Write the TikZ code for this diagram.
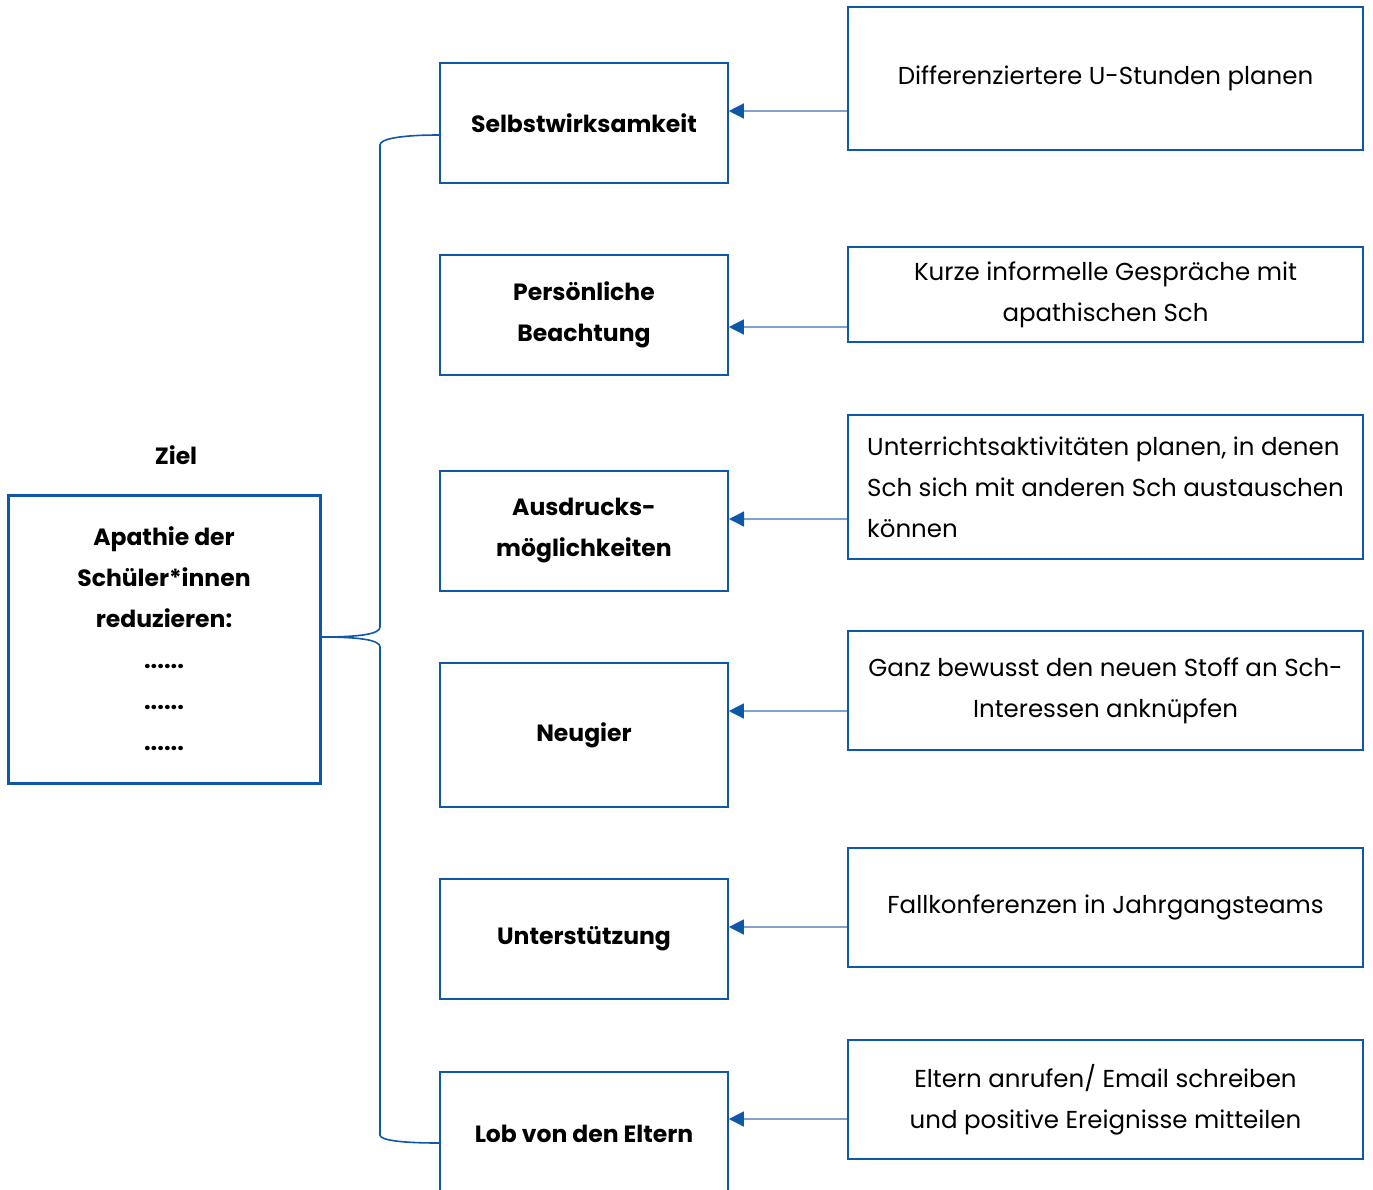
\documentclass[tikz,border=0pt]{standalone}
\usepackage{fontspec}
\setmainfont{Poppins}
\usetikzlibrary{arrows.meta}
\definecolor{ccBlue}{HTML}{0F57A8}
\definecolor{ccLight}{HTML}{7FA3D1}

\begin{document}
\begin{tikzpicture}[x=1pt, y=-1pt]
\tikzstyle{goalbox}=[draw=ccBlue, line width=3pt, align=center, minimum width=312pt, minimum height=288pt, font=\fontsize{23.5}{41}\selectfont\bfseries]
\tikzstyle{midbox}=[draw=ccBlue, line width=1.6pt, align=center, minimum width=288pt, minimum height=120pt, font=\fontsize{23.5}{41}\selectfont\bfseries]
\tikzstyle{actbox}=[draw=ccBlue, line width=1.2pt, align=center, minimum width=515pt, font=\fontsize{24.5}{41}\selectfont]
\tikzstyle{arr}=[draw=ccLight, line width=1.3pt, -{Triangle[length=15pt, width=15pt, color=ccBlue]}]
\tikzstyle{brace}=[draw=ccBlue, line width=1.6pt]
\useasboundingbox (0,0) rectangle (1373,1189);

% Ziel
\node[font=\fontsize{23.5}{41}\selectfont\bfseries] (ziel) at (176,455) {Ziel};
\node[goalbox] (goal) at (164,639) {Apathie der\\Schüler*innen\\reduzieren:\\......\\......\\......};

% Teilziele
\node[midbox] (selbst) at (584,123) {Selbstwirksamkeit};
\node[midbox] (beacht) at (584,315) {Persönliche\\Beachtung};
\node[midbox, line width=2pt] (ausdr) at (584,531) {Ausdrucks-\\möglichkeiten};
\node[midbox, minimum height=144pt] (neug) at (584,735) {Neugier};
\node[midbox] (unterst) at (584,939) {Unterstützung};
\node[midbox, minimum height=124pt] (lob) at (584,1134) {Lob von den Eltern};

% Massnahmen
\node[actbox, minimum height=143pt] (plan) at (1105.5,78.5) {Differenziertere U-Stunden planen};
\node[actbox, minimum height=95pt] (gespr) at (1105.5,294.5) {Kurze informelle Gespräche mit\\apathischen Sch};
\node[actbox, minimum height=144pt, align=left] (aktiv) at (1105.5,487) {Unterrichtsaktivitäten planen, in denen\\Sch sich mit anderen Sch austauschen\\können};
\node[actbox, minimum height=119pt] (stoff) at (1105.5,690.5) {Ganz bewusst den neuen Stoff an Sch-\\Interessen anknüpfen};
\node[actbox, minimum height=119pt] (fall) at (1105.5,907.5) {Fallkonferenzen in Jahrgangsteams};
\node[actbox, minimum height=119pt] (eltern) at (1105.5,1099.5) {Eltern anrufen/ Email schreiben\\und positive Ereignisse mitteilen};

% Pfeile
\draw[arr] (plan.west |- 0,111) -- (selbst.east |- 0,111);
\draw[arr] (gespr.west |- 0,327) -- (beacht.east |- 0,327);
\draw[arr] (aktiv.west |- 0,519) -- (ausdr.east |- 0,519);
\draw[arr] (stoff.west |- 0,711) -- (neug.east |- 0,711);
\draw[arr] (fall.west |- 0,927) -- (unterst.east |- 0,927);
\draw[arr] (eltern.west |- 0,1119) -- (lob.east |- 0,1119);

% Klammer
\draw[brace] (selbst.west |- 0,135) .. controls (400,135) and (380,139) .. (380,145) -- (380,627) .. controls (380,634) and (360,637) .. (goal.east |- 0,637);
\draw[brace] (goal.east |- 0,637) .. controls (360,637) and (380,640) .. (380,647) -- (380,1135) .. controls (380,1140) and (400,1143) .. (lob.west |- 0,1143);
\end{tikzpicture}
\end{document}
